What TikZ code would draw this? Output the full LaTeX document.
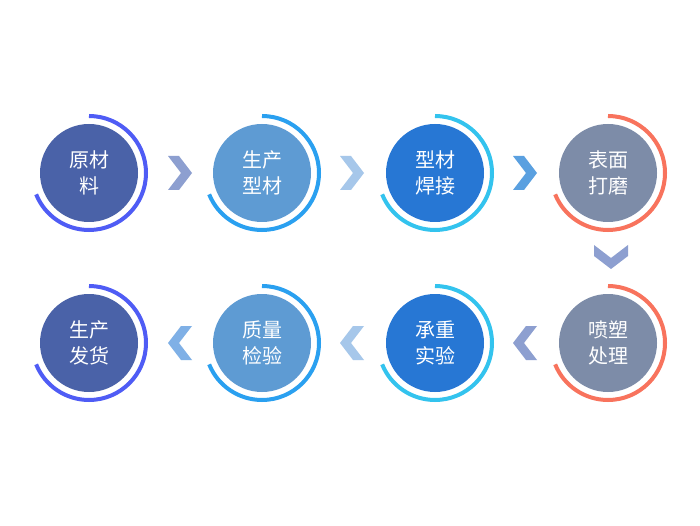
\documentclass[tikz,border=0pt]{standalone}
\usepackage{fontspec}
\setmainfont{Noto Sans CJK SC}
\usetikzlibrary{positioning}
\definecolor{navyfill}{HTML}{4A62A8}
\definecolor{navyring}{HTML}{4F5CF5}
\definecolor{skyfill}{HTML}{5E9BD3}
\definecolor{skyring}{HTML}{2AA0F0}
\definecolor{bluefill}{HTML}{2777D4}
\definecolor{bluering}{HTML}{33C3EE}
\definecolor{grayfill}{HTML}{7D8CA8}
\definecolor{grayring}{HTML}{F8735D}
\definecolor{chevA}{HTML}{8D9FD0}
\definecolor{chevB}{HTML}{A6C7EA}
\definecolor{chevC}{HTML}{5AA0E0}
\definecolor{chevD}{HTML}{7FB0E6}
\tikzset{
  stage/.style={circle,minimum size=98pt,inner sep=0pt,text=white,align=center,
    font=\fontsize{20}{26}\selectfont},
  ring/.style={line width=4pt}
}
\newcommand{\chev}[3]{% position, rotation, colour
  \fill[#3,shift={#1},rotate=#2] (-12,-17) -- (-1,-17) -- (12,0) -- (-1,17) -- (-12,17) -- (1,0) -- cycle;}
\begin{document}
\begin{tikzpicture}[x=1pt,y=1pt]
  \useasboundingbox[fill=white] (0,0) rectangle (700,525);
  % first row
  \node[stage,fill=navyfill] (s1) at (89,352) {原材\\料};
  \node[stage,fill=skyfill] (s2) at (262,352) {生产\\型材};
  \node[stage,fill=bluefill] (s3) at (435,352) {型材\\焊接};
  \node[stage,fill=grayfill] (s4) at (608,352) {表面\\打磨};
  % second row
  \node[stage,fill=grayfill] (s5) at (608,182) {喷塑\\处理};
  \node[stage,fill=bluefill] (s6) at (435,182) {承重\\实验};
  \node[stage,fill=skyfill] (s7) at (262,182) {质量\\检验};
  \node[stage,fill=navyfill] (s8) at (89,182) {生产\\发货};
  % rings
  \foreach \s/\c in {s1/navyring,s2/skyring,s3/bluering,s4/grayring,
                     s5/grayring,s6/bluering,s7/skyring,s8/navyring}
    \draw[ring,\c] (\s.center) ++(0,57) arc[start angle=90,end angle=-158,radius=57];
  % arrows
  \chev{(180,352)}{0}{chevA}
  \chev{(352,352)}{0}{chevB}
  \chev{(525,352)}{0}{chevC}
  \chev{(611,268)}{-90}{chevA}
  \chev{(525,182)}{180}{chevA}
  \chev{(352,182)}{180}{chevB}
  \chev{(180,182)}{180}{chevD}
\end{tikzpicture}
\end{document}
